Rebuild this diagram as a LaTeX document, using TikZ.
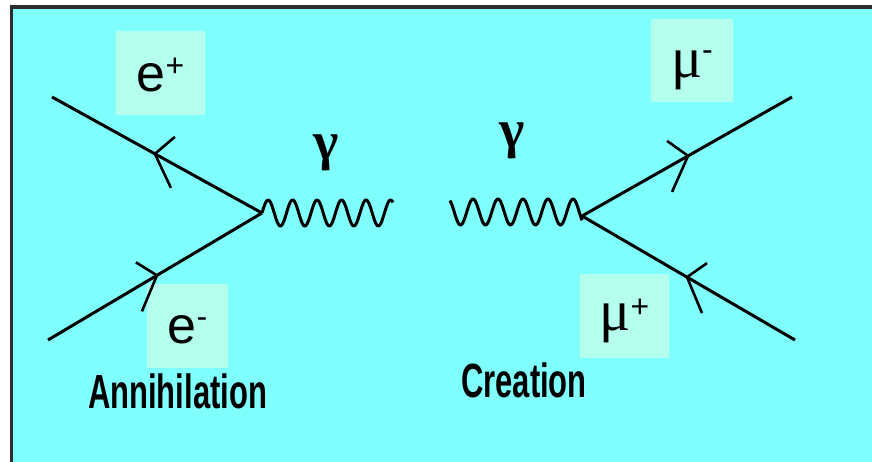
\documentclass[tikz,border=0pt]{standalone}
\usepackage{fontspec}
\setmainfont{Liberation Sans}
\newfontfamily\serifgreek{Liberation Serif}
\usetikzlibrary{calc}
\definecolor{bgcyan}{RGB}{128,255,255}
\definecolor{boxmint}{RGB}{180,255,238}
\definecolor{framegrey}{RGB}{45,45,45}
\begin{document}
\begin{tikzpicture}[x=1pt,y=-1pt,
  fermion/.style={line width=3pt},
  arm/.style={line width=2.6pt},
  photon/.style={line width=3pt, line join=round},
  lbl/.style={fill=boxmint, inner sep=0pt, text depth=0pt, font=\fontsize{52}{52}\selectfont},
  gam/.style={inner sep=0pt, font=\serifgreek\bfseries\fontsize{54}{54}\selectfont},
  caption/.style={inner sep=0pt, anchor=base west, font=\bfseries\fontsize{48}{48}\selectfont}
]
\useasboundingbox (0,0) rectangle (872,462);
\clip (0,0) rectangle (872,462);
\fill[white] (0,0) rectangle (872,462);
\fill[bgcyan] (12,9) rectangle (872,462);
\draw[framegrey, line width=4pt] (11.5,7.5) -- (880,7.5);
\draw[framegrey, line width=3pt] (11.5,5.5) -- (11.5,470);

% label boxes
\node[lbl, minimum width=89pt, minimum height=84pt, text height=38pt] (epbox) at (160.5,73)
  {e\raisebox{15pt}{\fontsize{32}{32}\selectfont +}};
\node[lbl, minimum width=81pt, minimum height=84pt, text height=34pt] (embox) at (187.5,326)
  {e\raisebox{16pt}{\fontsize{32}{32}\selectfont -}};
\node[lbl, minimum width=82pt, minimum height=83pt, text height=35pt] (mmbox) at (692,60.5)
  {{\serifgreek\fontsize{58}{58}\selectfont μ}\raisebox{17pt}{\fontsize{32}{32}\selectfont -}};
\node[lbl, minimum width=89pt, minimum height=84pt, text height=28pt] (mpbox) at (624.5,316)
  {{\serifgreek\fontsize{58}{58}\selectfont μ}\raisebox{13pt}{\fontsize{32}{32}\selectfont +}};

% vertices and external ends
\coordinate (ep) at (52,97);
\coordinate (em) at (48,340);
\coordinate (vL) at (262,213);
\coordinate (vR) at (582,216);
\coordinate (mm) at (792,97);
\coordinate (mp) at (795,340);

% fermion lines
\draw[fermion] (ep) -- (vL);
\draw[fermion] (em) -- (vL);
\draw[fermion] (vR) -- (mm);
\draw[fermion] (vR) -- (mp);

% photon lines
\draw[photon] plot[domain=262:393, samples=160] (\x, {213 - 13*sin((\x-262)*14.7)});
\draw[photon] plot[domain=450:582, samples=160] (\x, {212 - 13*sin((\x-473)*14.4+90)});

% arrowheads
\coordinate (t1) at ($(ep)!0.49!(vL)$);
\draw[arm] (t1) -- ++(20,-17);
\draw[arm] (t1) -- ++(16,34);
\coordinate (t2) at ($(em)!0.509!(vL)$);
\draw[arm] (t2) -- ++(-21,-13);
\draw[arm] (t2) -- ++(-15,36);
\coordinate (t3) at ($(vR)!0.505!(mm)$);
\draw[arm] (t3) -- ++(-21,-15);
\draw[arm] (t3) -- ++(-16,36);
\coordinate (t4) at ($(vR)!0.493!(mp)$);
\draw[arm] (t4) -- ++(20,-14);
\draw[arm] (t4) -- ++(15,36);

% gamma labels
\node[gam] (gamL) at (326,153) {γ};
\node[gam] (gamR) at (512,141) {γ};

% captions
\node[caption] (ann) at (88,408) {\scalebox{0.645}[1]{Annihilation}};
\node[caption] (cre) at (461,397) {\scalebox{0.645}[1]{Creation}};
\end{tikzpicture}
\end{document}
